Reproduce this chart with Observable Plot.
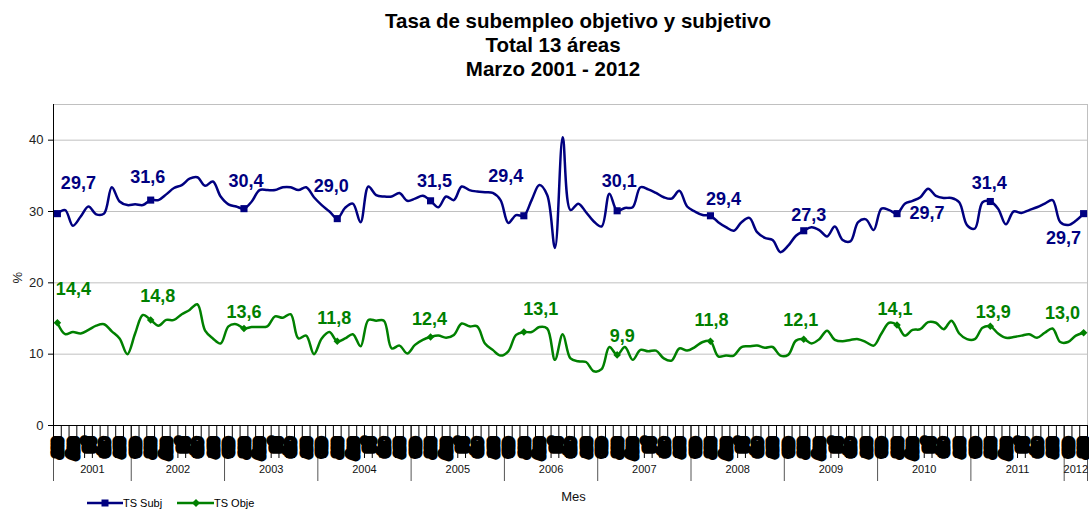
<!DOCTYPE html>
<html>
<head>
<meta charset="utf-8">
<script src="https://cdn.jsdelivr.net/npm/d3@7"></script>
<script src="https://cdn.jsdelivr.net/npm/@observablehq/plot@0.6"></script>
<style>
  body { margin: 0; background: #fff; font-family: "Liberation Sans", Arial, sans-serif; }
  #wrap { position: relative; width: 1089px; height: 512px; overflow: hidden; background: #fff; }
  .t { position: absolute; font-weight: bold; font-size: 20.5px; white-space: nowrap; transform: translate(-50%, -50%); color: #000; line-height: 1; }
  #chart { position: absolute; left: 0; top: 88px; }
  .lg { position: absolute; font-size: 11px; color: #000; line-height: 1; transform: translateY(-50%); white-space: nowrap; }
  .sw { position: absolute; }
</style>
</head>
<body>
<div id="wrap">
  <div class="t" style="left:578px; top:21px;">Tasa de subempleo objetivo y subjetivo</div>
  <div class="t" style="left:553px; top:45px;">Total 13 áreas</div>
  <div class="t" style="left:553px; top:69px;">Marzo 2001 - 2012</div>
  <div id="chart"></div>
  <svg class="sw" style="left:87px; top:497px;" width="36" height="12">
    <line x1="0" y1="6" x2="36" y2="6" stroke="#000080" stroke-width="2.5"/>
    <rect x="14.5" y="2.5" width="7" height="7" fill="#000080"/>
  </svg>
  <div class="lg" style="left:123px; top:503px;">TS Subj</div>
  <svg class="sw" style="left:177px; top:497px;" width="37" height="12">
    <line x1="0" y1="6" x2="37" y2="6" stroke="#008000" stroke-width="2.5"/>
    <path d="M19,2 L23,6 L19,10 L15,6 Z" fill="#008000"/>
  </svg>
  <div class="lg" style="left:214px; top:503px;">TS Obje</div>
</div>
<script>
// ---- data ----
const monthNames = ["ene","feb","mar","abr","may","jun","jul","ago","sep","oct","nov","dic"];
const startYear = 2001;
const startMonth = 2; // March (0-based)
const seriesNames = ["TS Subj", "TS Obje"];

// TS Subj, monthly, March 2001 - March 2012
const subj = [
  29.7, 30.2, 28.0, 29.3, 30.7, 29.6, 29.7, 33.4, 31.4, 30.9,
  31.0, 30.9, 31.6, 31.6, 32.4, 33.3, 33.7, 34.6, 34.8, 33.6,
  34.2, 32.1, 31.0, 30.7, 30.4, 31.4, 33.0, 33.0, 33.0, 33.4,
  33.4, 33.0, 33.4, 32.0, 30.9, 30.0, 29.0, 30.5, 31.1, 28.5,
  33.5, 32.3, 32.1, 32.1, 32.6, 31.5, 31.8, 32.2, 31.5, 30.6,
  32.1, 31.6, 33.5, 33.0, 32.8, 32.7, 32.6, 31.6, 28.4, 29.5,
  29.4, 31.6, 33.7, 32.3, 24.9, 40.4, 30.2, 31.1, 29.9, 28.6,
  27.9, 32.5, 30.1, 30.5, 30.6, 33.4, 33.1, 32.6, 32.0, 31.8,
  32.9, 30.7, 30.0, 29.5, 29.4, 28.5, 27.8, 27.3, 28.5, 29.1,
  27.1, 26.3, 26.0, 24.3, 25.2, 26.6, 27.3, 27.8, 27.4, 26.5,
  27.9, 26.0, 25.8, 28.5, 28.9, 27.4, 30.4, 30.2, 29.7, 31.1,
  31.5, 32.0, 33.2, 32.2, 31.9, 31.9, 31.3, 28.1, 27.6, 31.3,
  31.4, 30.4, 28.2, 30.0, 29.8, 30.2, 30.6, 31.1, 31.6, 28.5,
  28.1, 28.7, 29.7
];

// TS Obje, monthly, March 2001 - March 2012
const obje = [
  14.4, 12.8, 13.1, 12.9, 13.4, 14.0, 14.2, 13.2, 12.2, 10.0,
  12.9, 15.5, 14.8, 14.0, 14.8, 14.8, 15.6, 16.2, 17.0, 13.3,
  12.2, 11.5, 13.9, 14.2, 13.6, 13.8, 13.8, 13.9, 15.3, 15.1,
  15.6, 12.2, 12.6, 10.0, 12.2, 13.1, 11.8, 12.2, 12.8, 11.1,
  14.8, 14.7, 14.7, 10.8, 11.2, 10.1, 11.3, 12.0, 12.4, 12.6,
  12.3, 12.7, 14.3, 13.9, 13.9, 11.5, 10.6, 9.8, 10.4, 12.7,
  13.1, 13.1, 13.8, 13.6, 9.2, 12.8, 9.4, 9.0, 8.9, 7.6,
  7.9, 11.0, 9.9, 11.0, 9.2, 10.6, 10.4, 10.5, 9.4, 9.1,
  10.8, 10.5, 11.0, 11.7, 11.8, 9.7, 9.8, 9.8, 11.0, 11.1,
  11.2, 10.9, 11.0, 9.8, 9.9, 11.9, 12.1, 11.5, 12.1, 13.3,
  12.0, 11.8, 12.0, 12.1, 11.7, 11.2, 12.9, 14.4, 14.1, 12.6,
  13.4, 13.5, 14.5, 14.4, 13.5, 14.7, 12.9, 12.1, 12.1, 13.7,
  13.9, 12.9, 12.3, 12.4, 12.6, 12.8, 12.3, 13.0, 13.6, 11.7,
  11.7, 12.6, 13.0
];

const yTicks = [0, 10, 20, 30, 40];

// ---- label placement (pixel offsets from each March marker) ----
const subjLabelOffsets = [[21,-30],[-3,-23],[2,-27],[-6,-32],[4,-20],[-18,-40],[2,-30],[13,-17],[5,-16],[30,0],[-1,-18],[-20,25]];
const objeLabelOffsets = [[16,-34],[7,-24],[0,-16],[-3,-23],[-1,-18],[17,-23],[5,-19],[1,-21],[-3,-19],[-2,-16],[3,-14],[-21,-20]];

// ---- derived table ----
const rows = subj.map((v, i) => ({
  i,
  subj: v,
  obje: obje[i],
  m: (startMonth + i) % 12,
  year: startYear + Math.floor((startMonth + i) / 12)
}));
const n = rows.length;
const marchRows = rows.filter(r => r.m === 2);
const yearInfo = d3.groups(rows, r => r.year).map(([year, rs]) => ({
  year: String(year),
  start: rs[0].i,
  end: rs[rs.length - 1].i + 1
}));
const boundaries = [0, ...yearInfo.map(d => d.end)];
const fmt = v => v.toFixed(1).replace(".", ",");

const NAVY = "#000080", GREEN = "#008000";
const FONT = "'Liberation Sans', Arial, sans-serif";
const xc = r => r.i + 0.5;

const labelMarks = [];
marchRows.forEach((r, k) => {
  labelMarks.push(Plot.text([r], {
    x: xc, y: "subj", text: d => fmt(d.subj),
    dx: subjLabelOffsets[k][0], dy: subjLabelOffsets[k][1],
    fill: NAVY, fontSize: 18, fontWeight: "bold", lineAnchor: "middle"
  }));
  labelMarks.push(Plot.text([r], {
    x: xc, y: "obje", text: d => fmt(d.obje),
    dx: objeLabelOffsets[k][0], dy: objeLabelOffsets[k][1],
    fill: GREEN, fontSize: 18, fontWeight: "bold", lineAnchor: "middle"
  }));
});

const chart = Plot.plot({
  width: 1089,
  height: 424,
  marginTop: 16,
  marginBottom: 87,
  marginLeft: 53,
  marginRight: 2,
  x: { type: "linear", domain: [0, n], axis: null },
  y: { domain: [0, 45], axis: null },
  style: { fontFamily: FONT, fontSize: "13px", background: "white", color: "#000", overflow: "visible" },
  marks: [
    Plot.gridY(yTicks.filter(t => t > 0), { stroke: "#c0c0c0", strokeOpacity: 1 }),
    Plot.frame({ stroke: "#c0c0c0" }),
    // year separators
    Plot.axisX(boundaries, { tickSize: 56, tickFormat: () => "", stroke: "#555", label: null }),
    // month ticks
    Plot.axisX(d3.range(n + 1), { tickSize: 33, tickFormat: () => "", stroke: "#000", label: null }),
    // month labels (every other month), overlapping into dark blocks
    Plot.text(rows.filter(r => r.i % 2 === 0), {
      x: xc, frameAnchor: "bottom", text: r => monthNames[r.m],
      rotate: 90, textAnchor: "start", lineAnchor: "middle", dy: 14.5, dx: 0.5,
      fontSize: 8.5, fontWeight: "bold", fill: "#000", stroke: "#000", strokeWidth: 9,
      strokeLinejoin: "round", opacity: 0.999
    }),
    // year labels
    Plot.text(yearInfo, {
      x: d => (d.start + d.end) / 2, text: "year", frameAnchor: "bottom", dy: 47,
      fontSize: 11, fill: "#111"
    }),
    Plot.text(["Mes"], { frameAnchor: "bottom", dx: 3, dy: 75, fontSize: 13, fill: "#111" }),
    Plot.axisY(yTicks, { tickSize: 5, tickPadding: 5, fontSize: 13, label: null, stroke: "#000", fill: "#222" }),
    Plot.text(["%"], { frameAnchor: "left", dx: -36, dy: 18.5, rotate: -90, fontSize: 13, fill: "#222" }),
    Plot.ruleX([0], { stroke: "#000" }),
    Plot.ruleY([0], { stroke: "#000" }),
    Plot.line(rows, { x: xc, y: "subj", stroke: NAVY, strokeWidth: 2.5, curve: "catmull-rom" }),
    Plot.line(rows, { x: xc, y: "obje", stroke: GREEN, strokeWidth: 2.5, curve: "catmull-rom" }),
    Plot.dot(marchRows, { x: xc, y: "subj", symbol: "square", r: 4, fill: NAVY, stroke: "none" }),
    Plot.dot(marchRows, { x: xc, y: "obje", symbol: "diamond2", r: 3.4, fill: GREEN, stroke: "none" }),
    ...labelMarks
  ]
});
document.getElementById("chart").appendChild(chart);
</script>
</body>
</html>
